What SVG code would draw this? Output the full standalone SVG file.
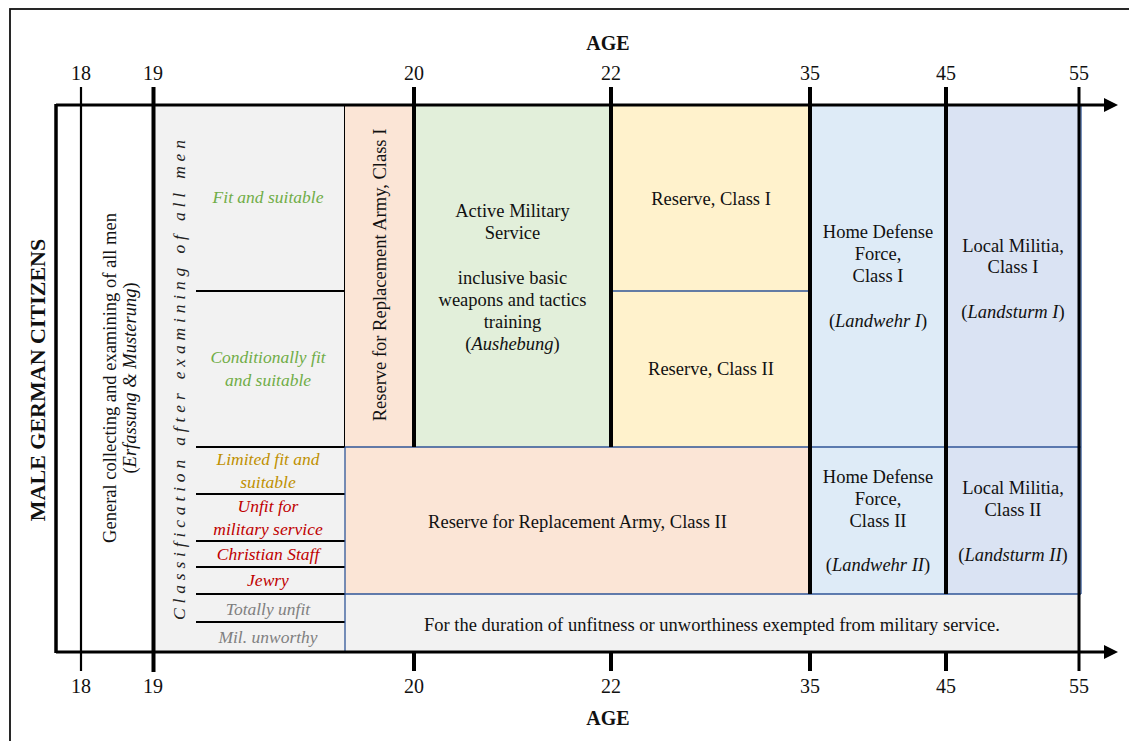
<svg xmlns="http://www.w3.org/2000/svg" width="1129" height="741" viewBox="0 0 1129 741">
<style>
text{font-family:"Liberation Serif","Times New Roman",serif;fill:#111}
.b{font-size:18.5px;text-anchor:middle}
.i{font-style:italic}
.t{font-size:20px;text-anchor:middle}
.h{font-size:20px;font-weight:bold;text-anchor:middle}
.c{font-size:17.5px;font-style:italic;text-anchor:middle}
.g{fill:#70ad47}.y{fill:#bf9000}.r{fill:#c00000}.gr{fill:#808080}
.bl{stroke:#2f5597;stroke-width:1.3;fill:none}
.k{stroke:#000;fill:none}
</style>
<defs>
<marker id="ah" markerWidth="14" markerHeight="14" refX="1" refY="7" orient="auto" markerUnits="userSpaceOnUse">
<path d="M0,0 L14,7 L0,14 Z" fill="#000"/>
</marker>
</defs>
<rect x="0" y="0" width="1129" height="741" fill="#fff"/>
<rect x="10" y="9" width="1200" height="800" fill="none" stroke="#111" stroke-width="1.8"/>

<g id="fills">
<rect x="153" y="105" width="192" height="547" fill="#f2f2f2"/>
<rect x="345" y="594" width="735" height="58" fill="#f2f2f2"/>
</g>

<g id="classification">
<g transform="translate(180,380) rotate(-90)"><text class="c" x="0" y="5" textLength="480" lengthAdjust="spacing" style="fill:#222">Classification after examining of all men</text></g>
<text class="c g" x="268" y="203">Fit and suitable</text>
<text class="c g" x="268" y="363">Conditionally fit</text>
<text class="c g" x="268" y="386">and suitable</text>
<text class="c y" x="268" y="465">Limited fit and</text>
<text class="c y" x="268" y="488">suitable</text>
<text class="c r" x="268" y="512">Unfit for</text>
<text class="c r" x="268" y="535">military service</text>
<text class="c r" x="268" y="560">Christian Staff</text>
<text class="c r" x="268" y="586">Jewry</text>
<text class="c gr" x="268" y="615">Totally unfit</text>
<text class="c gr" x="268" y="643">Mil. unworthy</text>
<g class="k" stroke-width="2">
<line x1="196" y1="291" x2="345" y2="291"/>
<line x1="196" y1="447" x2="345" y2="447"/>
<line x1="196" y1="494" x2="345" y2="494"/>
<line x1="196" y1="541" x2="345" y2="541"/>
<line x1="196" y1="567" x2="345" y2="567"/>
<line x1="196" y1="594" x2="345" y2="594"/>
<line x1="196" y1="622" x2="345" y2="622"/>
<line x1="345" y1="105" x2="345" y2="447"/>
</g>
</g>

<g id="general">
<g transform="translate(110,378) rotate(-90)"><text class="b" x="0" y="6">General collecting and examining of all men</text></g>
<g transform="translate(130,378) rotate(-90)"><text class="b" x="0" y="6">(<tspan class="i">Erfassung &amp; Musterung</tspan>)</text></g>
</g>

<g id="title">
<g transform="translate(37,380) rotate(-90)"><text x="0" y="8" style="font-size:22px;font-weight:bold;text-anchor:middle">MALE GERMAN CITIZENS</text></g>
</g>

<g id="reserve-replacement-1">
<rect x="345" y="105" width="69" height="342" fill="#fbe5d6"/>
<g transform="translate(380,275) rotate(-90)"><text class="b" x="0" y="6">Reserve for Replacement Army, Class I</text></g>
</g>

<g id="active-service">
<rect x="414" y="105" width="197" height="342" fill="#e2efda"/>
<text class="b" x="512.5" y="217">Active Military</text>
<text class="b" x="512.5" y="239">Service</text>
<text class="b" x="512.5" y="284">inclusive basic</text>
<text class="b" x="512.5" y="306">weapons and tactics</text>
<text class="b" x="512.5" y="328">training</text>
<text class="b" x="512.5" y="350">(<tspan class="i">Aushebung</tspan>)</text>
</g>

<g id="reserve-1">
<rect x="611" y="105" width="199" height="186" fill="#fff2cc"/>
<text class="b" x="711" y="205">Reserve, Class I</text>
</g>
<g id="reserve-2">
<rect x="611" y="291" width="199" height="156" fill="#fff2cc"/>
<line class="bl" x1="611" y1="291" x2="810" y2="291"/>
<text class="b" x="711" y="375">Reserve, Class II</text>
</g>

<g id="landwehr-1">
<rect x="810" y="105" width="136" height="342" fill="#deebf7"/>
<text class="b" x="878" y="238">Home Defense</text>
<text class="b" x="878" y="260">Force,</text>
<text class="b" x="878" y="282">Class I</text>
<text class="b" x="878" y="327">(<tspan class="i">Landwehr I</tspan>)</text>
</g>
<g id="landsturm-1">
<rect x="946" y="105" width="135" height="342" fill="#dae3f3"/>
<text class="b" x="1013" y="252">Local Militia,</text>
<text class="b" x="1013" y="273">Class I</text>
<text class="b" x="1013" y="318">(<tspan class="i">Landsturm I</tspan>)</text>
</g>

<g id="reserve-replacement-2">
<rect x="345" y="447" width="465" height="147" fill="#fbe5d6"/>
<text class="b" x="577.5" y="528">Reserve for Replacement Army, Class II</text>
</g>
<g id="landwehr-2">
<rect x="810" y="447" width="136" height="147" fill="#deebf7"/>
<text class="b" x="878" y="483">Home Defense</text>
<text class="b" x="878" y="505">Force,</text>
<text class="b" x="878" y="527">Class II</text>
<text class="b" x="878" y="571">(<tspan class="i">Landwehr II</tspan>)</text>
</g>
<g id="landsturm-2">
<rect x="946" y="447" width="135" height="147" fill="#dae3f3"/>
<text class="b" x="1013" y="494">Local Militia,</text>
<text class="b" x="1013" y="516">Class II</text>
<text class="b" x="1013" y="561">(<tspan class="i">Landsturm II</tspan>)</text>
</g>
<g id="exempt">
<text class="b" x="712" y="631">For the duration of unfitness or unworthiness exempted from military service.</text>
</g>

<g id="cell-borders">
<line class="bl" x1="345" y1="447" x2="1081" y2="447"/>
<line class="bl" x1="345" y1="594" x2="1081" y2="594"/>
<line class="bl" x1="345" y1="447" x2="345" y2="652"/>
<line class="bl" x1="1081" y1="105" x2="1081" y2="594"/>
<line class="bl" x1="810" y1="447" x2="810" y2="594"/>
</g>

<g id="connectors">
<line class="k" x1="56" y1="105" x2="1105" y2="105" stroke-width="3" marker-end="url(#ah)"/>
<line class="k" x1="56" y1="652" x2="1105" y2="652" stroke-width="3" marker-end="url(#ah)"/>
<line class="k" x1="56" y1="104" x2="56" y2="653" stroke-width="3.5"/>
<line class="k" x1="81" y1="87" x2="81" y2="671" stroke-width="2.2"/>
<line class="k" x1="153.5" y1="87" x2="153.5" y2="672" stroke-width="4"/>
<line class="k" x1="414" y1="87" x2="414" y2="447" stroke-width="4"/>
<line class="k" x1="414" y1="652" x2="414" y2="671" stroke-width="4"/>
<line class="k" x1="611" y1="87" x2="611" y2="447" stroke-width="4"/>
<line class="k" x1="611" y1="652" x2="611" y2="671" stroke-width="4"/>
<line class="k" x1="810" y1="87" x2="810" y2="594" stroke-width="4"/>
<line class="k" x1="810" y1="652" x2="810" y2="671" stroke-width="4"/>
<line class="k" x1="946" y1="87" x2="946" y2="594" stroke-width="4"/>
<line class="k" x1="946" y1="652" x2="946" y2="671" stroke-width="4"/>
<line class="k" x1="1079" y1="87" x2="1079" y2="671" stroke-width="3"/>
</g>

<g id="axis-labels">
<text class="h" x="608" y="50">AGE</text>
<text class="h" x="608" y="725">AGE</text>
<text class="t" x="81" y="80">18</text>
<text class="t" x="153" y="80">19</text>
<text class="t" x="414" y="80">20</text>
<text class="t" x="611" y="80">22</text>
<text class="t" x="810" y="80">35</text>
<text class="t" x="946" y="80">45</text>
<text class="t" x="1079" y="80">55</text>
<text class="t" x="81" y="693">18</text>
<text class="t" x="153" y="693">19</text>
<text class="t" x="414" y="693">20</text>
<text class="t" x="611" y="693">22</text>
<text class="t" x="810" y="693">35</text>
<text class="t" x="946" y="693">45</text>
<text class="t" x="1079" y="693">55</text>
</g>
</svg>
